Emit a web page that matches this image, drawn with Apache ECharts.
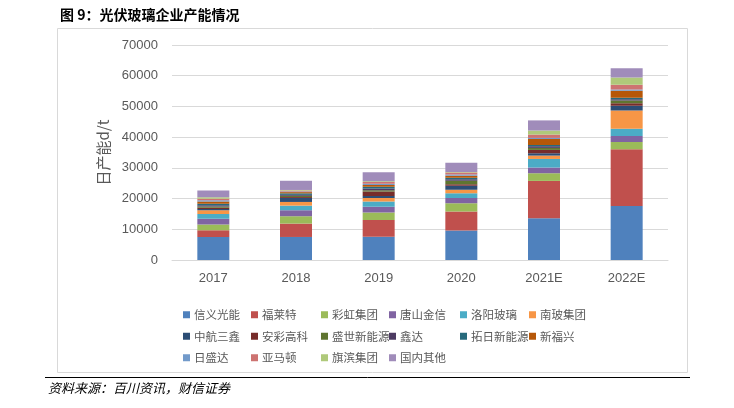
<!DOCTYPE html>
<html><head><meta charset="utf-8">
<script src="https://cdn.jsdelivr.net/npm/echarts@6/dist/echarts.min.js"></script>
<style>html,body{margin:0;padding:0;background:#fff}#c{width:734px;height:408px}</style>
</head><body><div id="c"></div>
<script>
const categories = ['2017','2018','2019','2020','2021E','2022E'];
const yTicks = [0,10000,20000,30000,40000,50000,60000,70000];
const names = ['信义光能','福莱特','彩虹集团','唐山金信','洛阳玻璃','南玻集团','中航三鑫','安彩高科','盛世新能源','鑫达','拓日新能源','新福兴','日盛达','亚马顿','旗滨集团','国内其他'];
const colors = ['#4F81BD','#C0504D','#9BBB59','#8064A2','#4BACC6','#F79646','#2C4D75','#772C2A','#5F7530','#4D3B62','#276A7C','#B65708','#729ACA','#CD7371','#AFC97A','#A08CBA'];
const xinyi     = [7500, 7500, 7600, 9600, 13600, 17600];
const fulaite   = [2200, 4350, 5400, 6200, 12150, 18450];
const caihong   = [1850, 2400, 2500, 2700, 2500, 2400];
const tangshan  = [1850, 1950, 1850, 1650, 1850, 1950];
const luoyang   = [1600, 1500, 1700, 1600, 2800, 2300];
const nanbo     = [1200, 1200, 1100, 1100, 1100, 5950];
const zhonghang = [400, 1300, 650, 1300, 750, 1600];
const ancai     = [450, 300, 1500, 550, 1100, 800];
const shengshi  = [350, 400, 400, 1100, 650, 850];
const xinda     = [400, 300, 600, 500, 550, 450];
const tuori     = [550, 500, 550, 500, 400, 450];
const xinfuxing = [700, 400, 550, 600, 1950, 2300];
const rishengda = [400, 200, 400, 400, 350, 450];
const yamadun   = [500, 300, 600, 650, 1100, 1500];
const qibin     = [450, 200, 200, 200, 1300, 2400];
const others    = [2200, 3000, 2950, 3000, 3300, 3000];
const seriesData = [xinyi,fulaite,caihong,tangshan,luoyang,nanbo,zhonghang,ancai,shengshi,xinda,tuori,xinfuxing,rishengda,yamadun,qibin,others];

const chart = echarts.init(document.getElementById('c'));
const legendCols = [180,248,318,386,457,526];
const legends = legendCols.map((x,ci)=>({
  orient:'vertical', left:x-2, top:304, itemGap:10, itemWidth:7, itemHeight:7,
  icon:'rect', selectedMode:false,
  textStyle:{color:'#595959', fontSize:11.5, fontFamily:'Noto Sans CJK SC', padding:[0,0,0,-1]},
  data: names.filter((n,i)=>i%6===ci)
}));
chart.setOption({
  animation:false,
  color: colors,
  title:{text:'图 9：光伏玻璃企业产能情况', left:55, top:3,
    textStyle:{fontSize:14, fontWeight:'bold', color:'#000', fontFamily:'Noto Sans CJK SC'}},
  legend: legends,
  grid:{left:172, right:66, top:45, bottom:148},
  xAxis:{type:'category', data:categories,
    axisLine:{lineStyle:{color:'#D9D9D9', width:1}}, axisTick:{show:false},
    axisLabel:{color:'#595959', fontSize:13, margin:12, fontFamily:'Liberation Sans'}},
  yAxis:{type:'value', min:yTicks[0], max:yTicks[yTicks.length-1], interval:10000,
    name:'日产能d/t', nameLocation:'middle', nameGap:58, nameRotate:90,
    nameTextStyle:{color:'#595959', fontSize:15, fontFamily:'Noto Sans CJK SC'},
    axisLine:{show:false}, axisTick:{show:false},
    splitLine:{lineStyle:{color:'#D9D9D9', width:1}},
    axisLabel:{color:'#595959', fontSize:13, margin:14, fontFamily:'Liberation Sans', formatter:v=>String(v)}},
  series: names.map((n,i)=>({name:n, type:'bar', stack:'all', barWidth:32,
    data:seriesData[i], itemStyle:{color:colors[i]}})),
  graphic:[
    {type:'rect', shape:{x:57.5, y:28.5, width:630, height:344}, style:{fill:'none', stroke:'#D9D9D9', lineWidth:1}, silent:true},
    {type:'line', shape:{x1:45, y1:377.5, x2:690, y2:377.5}, style:{stroke:'#000', lineWidth:1}},
    {type:'text', left:48, top:382, style:{text:'资料来源：百川资讯，财信证券', fontSize:13, fontStyle:'italic', fill:'#000', fontFamily:'Noto Sans CJK SC'}}
  ]
});
</script></body></html>
